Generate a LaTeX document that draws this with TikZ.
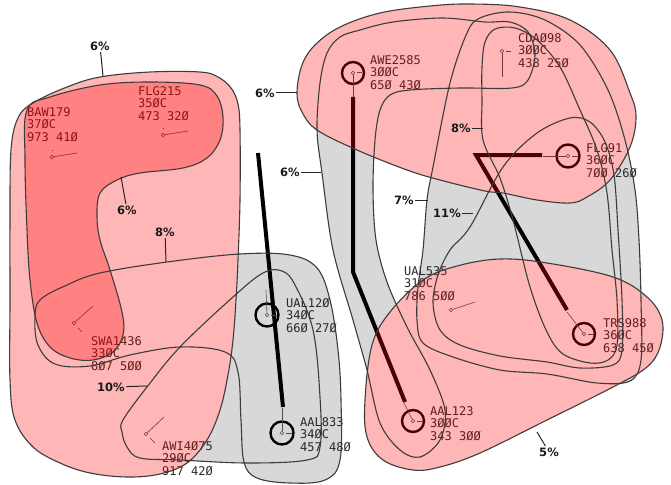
\documentclass[tikz,border=0pt]{standalone}
\usepackage{fontspec}
\newfontfamily\acmono{DejaVu Sans Mono}
\newfontfamily\pctfont{DejaVu Sans}
\definecolor{grayfill}{RGB}{216,216,216}
\definecolor{outc}{RGB}{60,60,60}
\definecolor{labc}{RGB}{40,40,40}
% shapes (x right, y down, in px)
\newcommand\shA{plot[smooth cycle,tension=0.6] coordinates {(11,150) (18,118) (33,103) (67,87) (100,77) (150,72) (200,72) (218,77) (231,88) (238,104) (240,130) (240,200) (238,260) (236,300) (233,340) (228,375) (220,410) (207,440) (187,463) (160,474) (127,477) (90,473) (60,463) (33,447) (15,420) (10,380) (10,300) (10,220)}}
\newcommand\shB{plot[smooth cycle,tension=0.6] coordinates {(27,110) (50,97) (100,85) (150,82) (200,85) (217,96) (223,117) (220,140) (207,158) (183,168) (140,173) (117,180) (100,193) (97,217) (100,240) (110,270) (122,312) (123,335) (113,352) (93,360) (70,358) (50,347) (37,323) (30,280) (27,230) (25,160)}}
\newcommand\shC{plot[smooth cycle,tension=0.6] coordinates {(40,300) (67,285) (100,273) (167,262) (240,254) (290,255) (317,268) (330,300) (338,350) (341,400) (340,460) (325,480) (290,483) (257,478) (244,462) (241,420) (238,372) (225,352) (180,347) (130,355) (90,366) (55,364) (38,345) (35,318)}}
\newcommand\shD{plot[smooth cycle,tension=0.6] coordinates {(123,420) (147,387) (180,347) (233,297) (263,273) (282,271) (295,285) (313,330) (320,397) (320,447) (307,460) (247,463) (180,460) (140,458) (127,447) (122,432)}}
\newcommand\shE{plot[smooth cycle,tension=0.6] coordinates {(297,93) (302,65) (315,45) (340,27) (380,13) (430,6) (470,4) (520,7) (570,20) (610,50) (630,93) (636,117) (630,147) (610,180) (587,197) (570,203) (537,200) (503,193) (485,191) (440,180) (407,170) (357,150) (317,130) (302,112)}}
\newcommand\shG{plot[smooth cycle,tension=0.6] coordinates {(365,400) (372,345) (390,312) (423,280) (457,266) (500,259) (547,263) (613,277) (647,297) (662,320) (660,347) (647,367) (613,387) (547,420) (480,453) (440,467) (413,470) (383,460) (367,437)}}
\newcommand\shSone{plot[smooth cycle,tension=0.55] coordinates {(320,83) (327,53) (340,37) (360,30) (393,22) (443,18) (485,22) (510,22) (528,32) (535,55) (528,80) (512,88) (460,88) (410,90) (390,95) (380,110) (375,140) (373,190) (376,240) (387,282) (407,327) (430,370) (445,410) (440,440) (420,457) (400,450) (380,423) (367,370) (353,320) (333,250) (322,173) (317,130)}}
\newcommand\shStwo{plot[smooth cycle,tension=0.55] coordinates {(483,140) (482,100) (482,67) (485,42) (495,29) (515,28) (537,40) (560,67) (580,110) (597,150) (607,193) (612,250) (617,300) (617,345) (608,360) (590,363) (563,354) (547,332) (530,287) (513,220) (500,178)}}
\newcommand\shSel{plot[smooth cycle,tension=0.55] coordinates {(470,227) (503,167) (537,133) (570,118) (590,122) (605,142) (614,175) (618,230) (622,300) (622,350) (613,365) (580,368) (547,362) (500,356) (460,345) (440,330) (433,303) (438,275) (450,250)}}
\newcommand\shSsev{plot[smooth cycle,tension=0.55] coordinates {(423,250) (427,200) (433,167) (450,83) (467,33) (480,18) (510,12) (545,20) (580,45) (608,90) (625,140) (635,190) (639,240) (641,300) (641,360) (630,381) (597,383) (547,374) (500,370) (453,357) (423,343) (417,320) (418,287)}}
\begin{document}
\begin{tikzpicture}[x=1pt,y=-1pt,
  gfill/.style={fill=grayfill},
  wfill/.style={fill=white},
  rfill/.style={fill=red,fill opacity=0.286},
  outl/.style={draw=outc,line width=1.1pt},
  conflict/.style={line width=4pt,draw=black},
  ring/.style={circle,draw=black,line width=2.4pt,minimum size=23pt,inner sep=0pt},
  vec/.style={draw=black!70,line width=0.6pt},
  acdot/.style={circle,draw=black!70,line width=0.6pt,minimum size=3.5pt,inner sep=0pt},
  aclab/.style={anchor=north west,inner sep=0pt,align=left,text=labc,
     font=\acmono\fontsize{12}{12.5}\selectfont},
  pct/.style={font=\pctfont\bfseries\fontsize{11.5}{12}\selectfont,inner sep=1.5pt,text=black!90},
  leader/.style={draw=black!85,line width=1pt}]
\useasboundingbox (0,0) rectangle (671,484);
% gray groups
\fill[gfill] \shC;
\fill[gfill] \shD;
\fill[gfill] \shSone;
\fill[gfill] \shStwo;
\fill[gfill] \shSsev;
\fill[gfill] \shSel;
% white base of pink groups
\fill[wfill] \shA;
\fill[wfill] \shB;
\fill[wfill] \shE;
\fill[wfill] \shG;
% conflict lines
\coordinate (k1a) at (258,153); \coordinate (k1b) at (283,407);
\draw[conflict] (k1a) -- (k1b);
\coordinate (k2a) at (353,97); \coordinate (k2m) at (353,272); \coordinate (k2b) at (405,402);
\draw[conflict] (k2a) -- (k2m) -- (k2b);
\coordinate (k3a) at (542,155); \coordinate (k3m) at (476,155); \coordinate (k3b) at (567,310);
\draw[conflict] (k3a) -- (k3m) -- (k3b);
% aircraft
\node[acdot] (baw) at (52,157) {};
\draw[vec] (baw) -- (77,153); \draw[vec] (52,151) -- (52,149.5);
\node[aclab] (bawl) at (27,107) {BAW179\\37ØC\\973 41Ø};
\node[acdot] (flg) at (163,135) {};
\draw[vec] (flg) -- (188,131); \draw[vec] (163,129) -- (163,127.5);
\node[aclab] (flgl) at (138,86) {FLG215\\35ØC\\473 32Ø};
\node[acdot] (swa) at (74,323) {};
\draw[vec] (swa) -- (93,306); \draw[vec] (78,328) -- (82,332);
\node[aclab] (swal) at (91,336) {SWA1436\\33ØC\\8Ø7 5ØØ};
\node[acdot] (awi) at (146,434) {};
\draw[vec] (awi) -- (164,417); \draw[vec] (150,438) -- (155,443);
\node[aclab] (awil) at (162,441) {AWI4Ø75\\29ØC\\917 42Ø};
\node[acdot] (ual) at (267,315) {};
\node[ring] (ualr) at (267,315) {};
\draw[vec] (ual) -- (266,290); \draw[vec] (271,315) -- (277,315);
\node[aclab] (uall) at (286,298) {UAL12Ø\\34ØC\\66Ø 27Ø};
\node[acdot] (aal8) at (282,433) {};
\node[ring] (aal8r) at (282,433) {};
\draw[vec] (aal8) -- (282,408); \draw[vec] (286,433) -- (292,433);
\node[aclab] (aal8l) at (300,417) {AAL833\\34ØC\\457 48Ø};
\node[acdot] (awe) at (353,73) {};
\node[ring,minimum size=22pt] (awer) at (353,73) {};
\draw[vec] (awe) -- (353,97); \draw[vec] (357,72) -- (362,72);
\node[aclab] (awel) at (370,55) {AWE2585\\3ØØC\\65Ø 43Ø};
\node[acdot] (cda) at (502,51) {};
\draw[vec] (cda) -- (502,77); \draw[vec] (506,51) -- (511,51);
\node[aclab] (cdal) at (518,33) {CDAØ98\\3ØØC\\438 25Ø};
\node[acdot] (flg9) at (568,156) {};
\node[ring] (flg9r) at (568,156) {};
\draw[vec] (flg9) -- (543,156); \draw[vec] (572,156) -- (578,156);
\node[aclab] (flg9l) at (586,143) {FLG91\\36ØC\\7ØØ 26Ø};
\node[acdot] (ual5) at (451,310) {};
\draw[vec] (ual5) -- (475,302);
\node[aclab] (ual5l) at (404,266) {UAL535\\31ØC\\786 5ØØ};
\node[acdot] (trs) at (584,334) {};
\node[ring,minimum size=22pt] (trsr) at (584,334) {};
\draw[vec] (trs) -- (567,312); \draw[vec] (588,334) -- (594,334);
\node[aclab] (trsl) at (603,318) {TRS988\\36ØC\\638 45Ø};
\node[acdot] (aal1) at (413,421) {};
\node[ring,minimum size=22pt] (aal1r) at (413,421) {};
\draw[vec] (aal1) -- (403,401); \draw[vec] (417,421) -- (423,421);
\node[aclab] (aal1l) at (430,406) {AAL123\\3ØØC\\343 3ØØ};
% translucent pink layers
\fill[rfill] \shA;
\fill[rfill] \shB;
\fill[rfill] \shE;
\fill[rfill] \shG;
% outlines
\draw[outl] \shC;
\draw[outl] \shD;
\draw[outl] \shSone;
\draw[outl] \shStwo;
\draw[outl] \shSsev;
\draw[outl] \shSel;
\draw[outl] \shA;
\draw[outl] \shB;
\draw[outl] \shE;
\draw[outl] \shG;
% percentage labels
\node[pct] (pA) at (100,46) {6\%};   \coordinate (cA) at (103,76);
\node[pct] (pB) at (127,210) {6\%};  \coordinate (cB) at (121,177);
\node[pct] (pC) at (165,232) {8\%};  \coordinate (cC) at (166,262);
\node[pct] (pD) at (111,387) {10\%}; \coordinate (cD) at (147,386);
\node[pct] (pE) at (265,93) {6\%};   \coordinate (cE) at (297,93);
\node[pct] (pS1) at (290,172) {6\%}; \coordinate (cS1) at (321,172);
\node[pct] (pS2) at (461,128) {8\%}; \coordinate (cS2) at (483,128);
\node[pct] (pS7) at (404,200) {7\%}; \coordinate (cS7) at (428,200);
\node[pct] (pS11) at (447,213) {11\%}; \coordinate (cS11) at (473,213);
\node[pct] (pG) at (549,452) {5\%};  \coordinate (cG) at (537,432);
\foreach \p/\c in {pA/cA,pB/cB,pC/cC,pD/cD,pE/cE,pS1/cS1,pS2/cS2,pS7/cS7,pS11/cS11,pG/cG}
  \draw[leader] (\p) -- (\c);
\end{tikzpicture}
\end{document}
